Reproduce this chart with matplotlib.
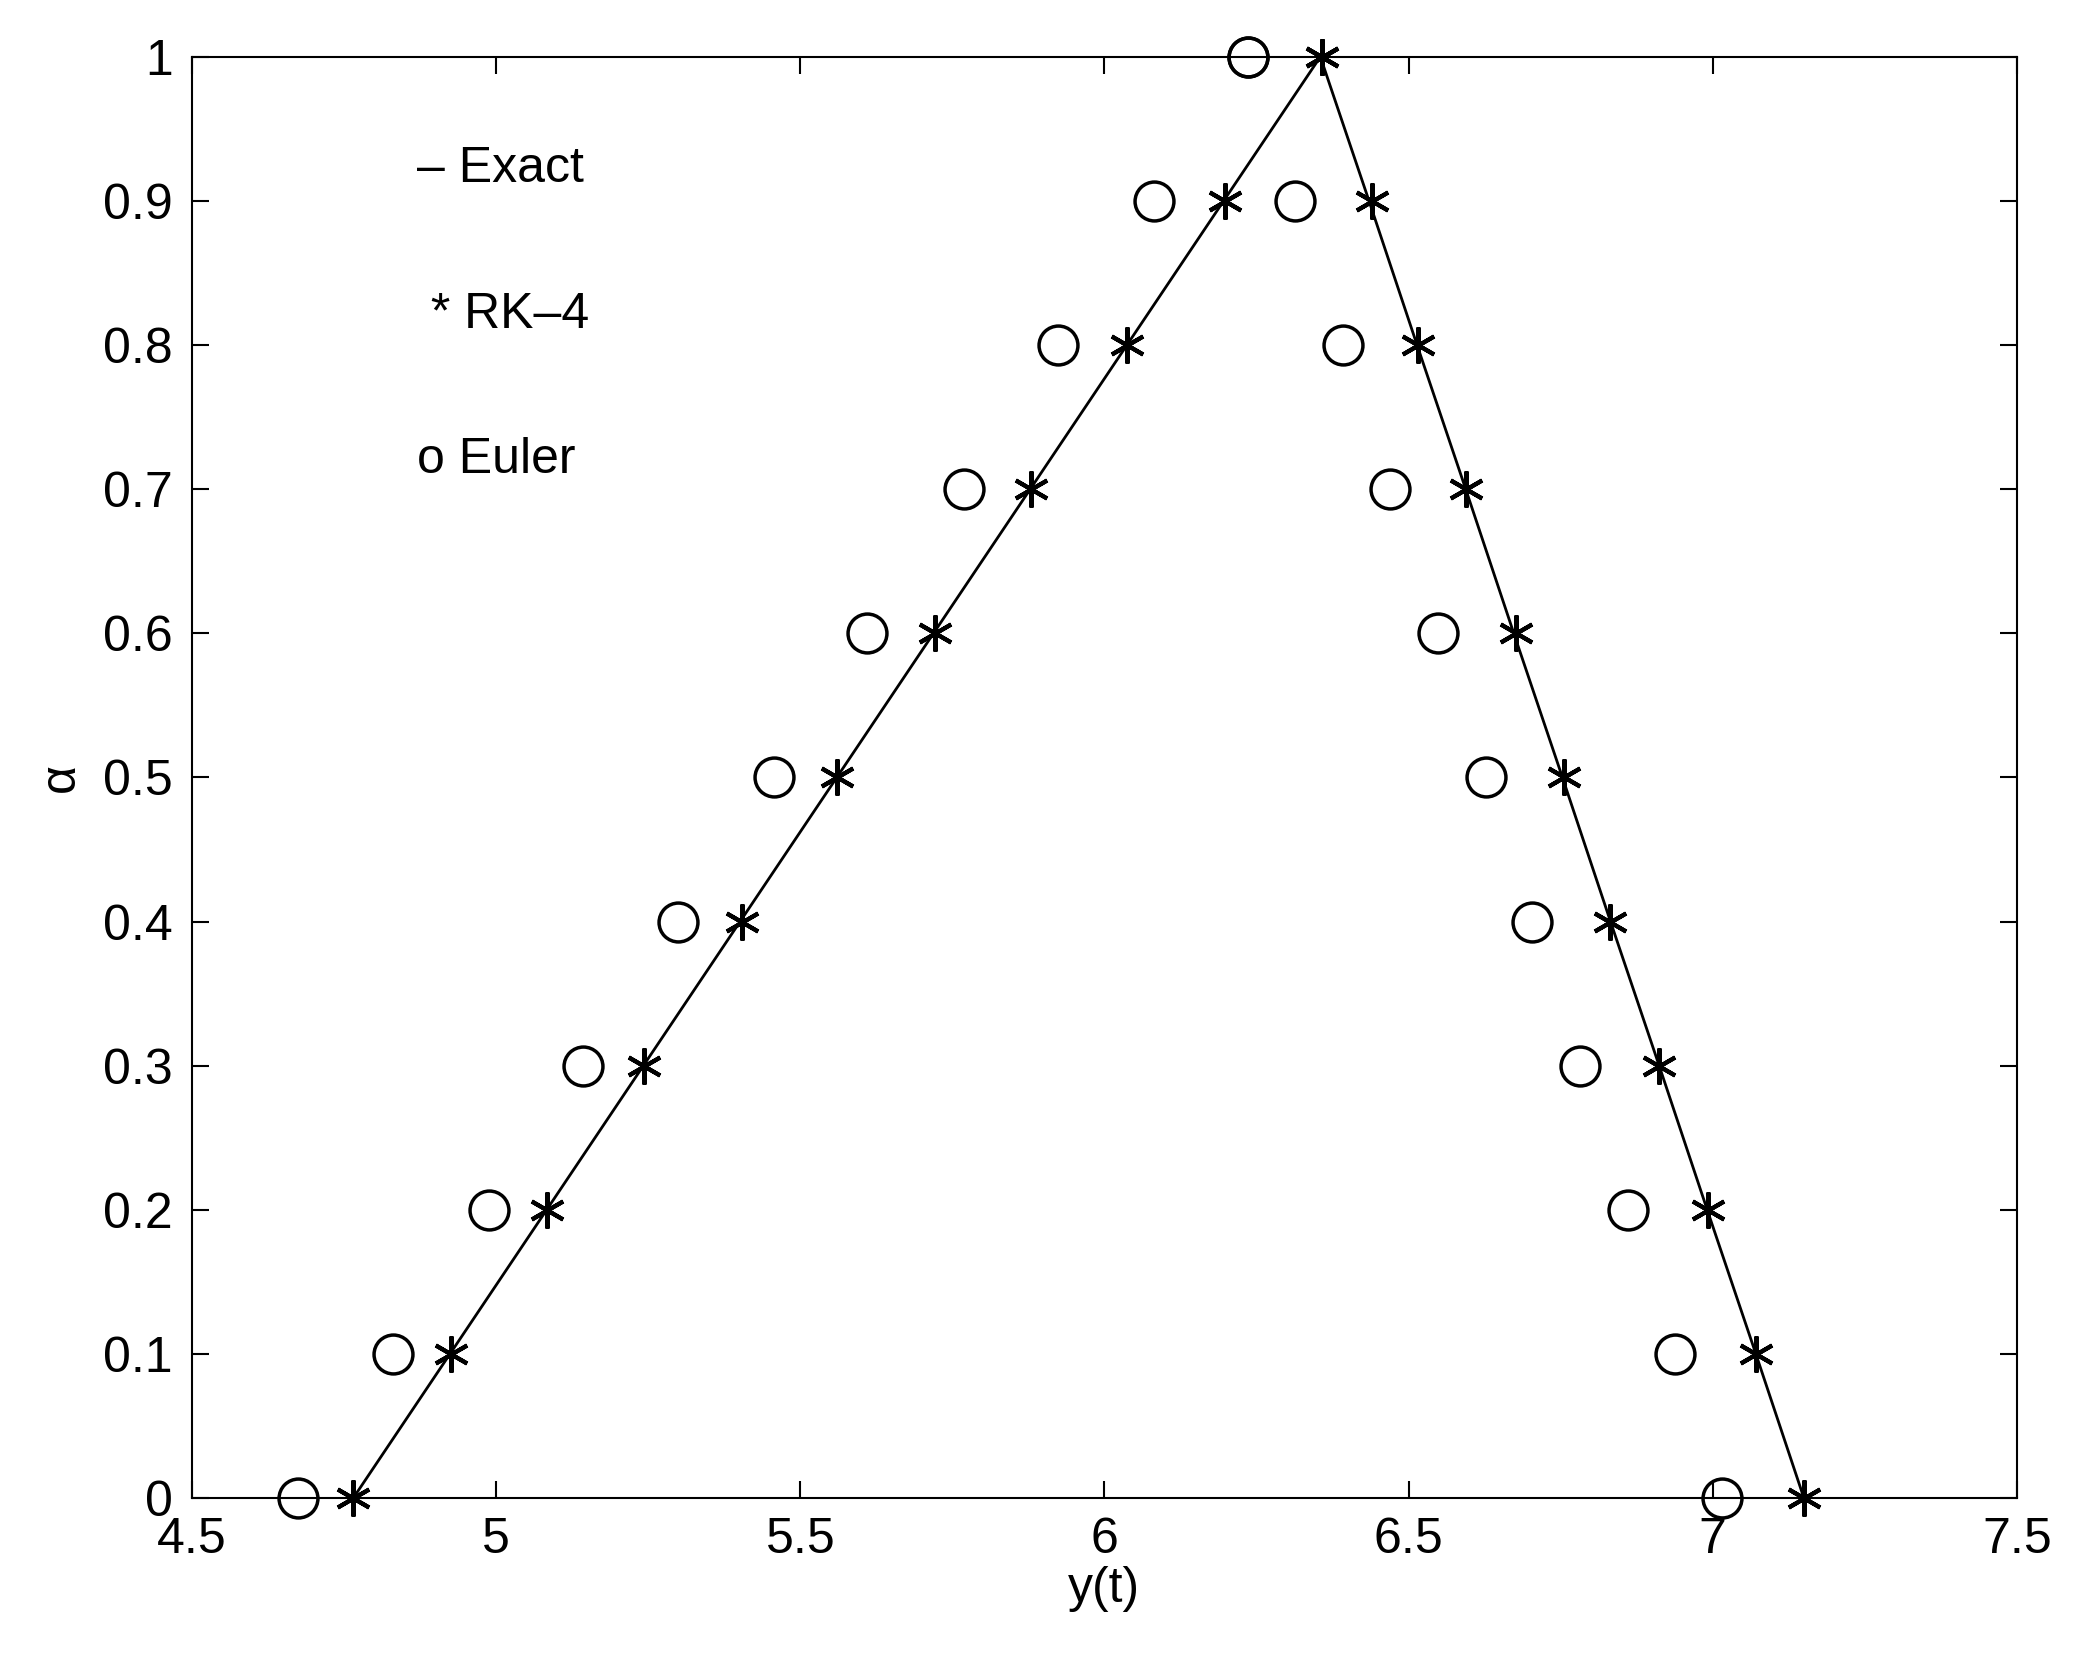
import matplotlib
matplotlib.use("Agg")
import matplotlib.pyplot as plt

alpha = [0.0,0.1,0.2,0.3,0.4,0.5,0.6,0.7,0.8,0.9,1.0]
exact_left = [4.765,4.924,5.083,5.242,5.401,5.560,5.719,5.878,6.037,6.196,6.355]
exact_right = [7.150,7.071,6.991,6.912,6.832,6.753,6.673,6.594,6.514,6.435,6.355]
rk4_left = [4.765,4.925,5.084,5.243,5.404,5.560,5.721,5.880,6.037,6.198,6.357]
rk4_right = [7.150,7.071,6.993,6.912,6.832,6.755,6.677,6.594,6.516,6.440,6.357]
euler_left = [4.674,4.831,4.988,5.142,5.299,5.456,5.610,5.769,5.924,6.081,6.236]
euler_right = [7.015,6.938,6.860,6.782,6.703,6.627,6.548,6.470,6.392,6.313,6.236]

plt.rcParams['font.family'] = ['Liberation Sans', 'DejaVu Sans']
fig = plt.figure(figsize=(20.77, 16.7), dpi=100)
ax = fig.add_axes([0.0925, 0.103, 0.8785, 0.863])
ax.plot(exact_left + exact_right[::-1][1:], alpha + alpha[::-1][1:], color='black', lw=2)
ax.plot(rk4_left + rk4_right, alpha + alpha, linestyle='none', marker=(6, 2, 0),
        markersize=26, color='black', markeredgewidth=3, clip_on=False)
ax.plot(euler_left + euler_right, alpha + alpha, linestyle='none', marker='o',
        markersize=28, markerfacecolor='none', markeredgecolor='black', markeredgewidth=2.5,
        clip_on=False)
ax.set_xlim(4.5, 7.5)
ax.set_ylim(0, 1)
ax.set_xticks([4.5,5,5.5,6,6.5,7,7.5])
ax.set_xticklabels(['4.5','5','5.5','6','6.5','7','7.5'])
ax.set_yticks([i/10 for i in range(11)])
ax.set_yticklabels(['0','0.1','0.2','0.3','0.4','0.5','0.6','0.7','0.8','0.9','1'])
ax.tick_params(direction='in', length=12, width=1.5, labelsize=36, top=True, right=True)
ax.tick_params(axis='x', pad=14)
ax.tick_params(axis='y', pad=14)
for s in ax.spines.values():
    s.set_linewidth(1.5)
ax.set_xlabel('y(t)', fontsize=36, labelpad=2)
ax.set_ylabel('α', fontsize=36, labelpad=14)
ax.text(4.87, 0.913, '– Exact', fontsize=36)
ax.text(4.87, 0.812, ' * RK–4', fontsize=36)
ax.text(4.87, 0.711, 'o Euler', fontsize=36)
fig.savefig('out.png', dpi=100, facecolor='white')
